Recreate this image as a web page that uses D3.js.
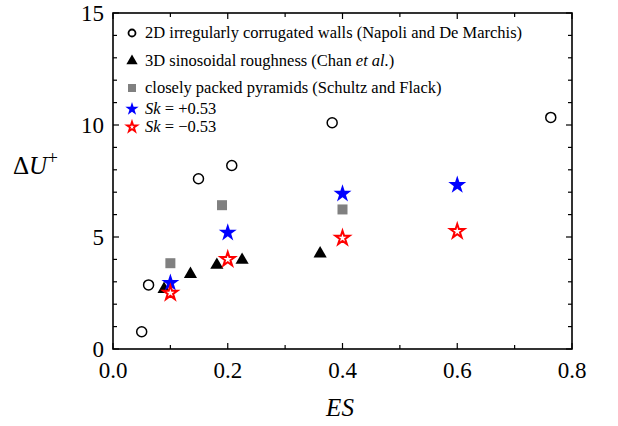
<!DOCTYPE html>
<html>
<head>
<meta charset="utf-8">
<script src="https://cdn.jsdelivr.net/npm/d3@7"></script>
<style>
  svg text, svg tspan { font-family: "Liberation Serif" !important; }
</style>
</head>
<body style="margin:0">
<script>
// data
var corrugatedES = [0.05, 0.062, 0.149, 0.207, 0.382, 0.763];
var corrugatedDU = [0.77, 2.86, 7.6, 8.19, 10.1, 10.34];
var sinusES = [0.089, 0.135, 0.181, 0.225, 0.361];
var sinusDU = [2.67, 3.34, 3.75, 3.97, 4.26];
var pyramidES = [0.1, 0.19, 0.4];
var pyramidDU = [3.83, 6.42, 6.23];
var skPosES = [0.1, 0.2, 0.4, 0.6];
var skPosDU = [2.95, 5.19, 6.93, 7.32];
var skNegES = [0.1, 0.2, 0.4, 0.6];
var skNegDU = [2.5, 4.0, 4.95, 5.25];
var xTicks = [0, 0.2, 0.4, 0.6, 0.8];
var yTicks = [0, 5, 10, 15];

var width = 618, height = 426;
var margin = {left: 113, right: 46, top: 13, bottom: 77};

var svg = d3.select('body').append('svg')
  .attr('width', width)
  .attr('height', height)
  .style('font-family', '"Liberation Serif"');

var x = d3.scaleLinear().domain([0, 0.8]).range([margin.left, width - margin.right]);
var y = d3.scaleLinear().domain([0, 15]).range([height - margin.bottom, margin.top]);

// frame
svg.append('rect')
  .attr('x', x(0)).attr('y', y(15))
  .attr('width', x(0.8) - x(0)).attr('height', y(0) - y(15))
  .attr('fill', 'none').attr('stroke', 'black').attr('stroke-width', 1.6);

// inward ticks on all four sides
var xMinor = d3.range(0, 0.81, 0.1);
var yMinor = d3.range(0, 15.1, 1);
xMinor.forEach(function(v) {
  var major = Math.abs(Math.round(v * 10) % 2) === 0;
  var len = major ? 6 : 4;
  svg.append('line').attr('x1', x(v)).attr('x2', x(v)).attr('y1', y(0)).attr('y2', y(0) - len).attr('stroke', 'black').attr('stroke-width', 1.2);
  svg.append('line').attr('x1', x(v)).attr('x2', x(v)).attr('y1', y(15)).attr('y2', y(15) + len).attr('stroke', 'black').attr('stroke-width', 1.2);
});
yMinor.forEach(function(v) {
  var len = (Math.round(v) % 5 === 0) ? 6 : 4;
  svg.append('line').attr('x1', x(0)).attr('x2', x(0) + len).attr('y1', y(v)).attr('y2', y(v)).attr('stroke', 'black').attr('stroke-width', 1.2);
  svg.append('line').attr('x1', x(0.8)).attr('x2', x(0.8) - len).attr('y1', y(v)).attr('y2', y(v)).attr('stroke', 'black').attr('stroke-width', 1.2);
});

// tick labels
svg.selectAll('.xlab').data(xTicks).enter().append('text')
  .attr('x', function(d) { return x(d); })
  .attr('y', y(0) + 29)
  .attr('text-anchor', 'middle')
  .attr('font-size', 23)
  .attr('font-family', 'Liberation Serif')
  .text(function(d) { return d.toFixed(1); });

svg.selectAll('.ylab').data(yTicks).enter().append('text')
  .attr('x', x(0) - 9)
  .attr('y', function(d) { return y(d) + 8; })
  .attr('text-anchor', 'end')
  .attr('font-size', 23)
  .attr('font-family', 'Liberation Serif')
  .text(function(d) { return d; });

// axis titles
svg.append('text')
  .attr('x', 340).attr('y', 416)
  .attr('text-anchor', 'middle')
  .attr('font-size', 25).attr('font-style', 'italic')
  .attr('font-family', 'Liberation Serif')
  .text('ES');

var yt = svg.append('text')
  .attr('x', 13).attr('y', 174)
  .attr('font-size', 25)
  .attr('font-family', 'Liberation Serif');
yt.append('tspan').text('Δ');
yt.append('tspan').attr('font-style', 'italic').text('U');
yt.append('tspan').attr('dy', -10).attr('font-size', 19).text('+');

// markers
var starPath = function(s) { return d3.symbol().type(d3.symbolStar).size(s)(); };
var triPath = function(s) { return d3.symbol().type(d3.symbolTriangle).size(s)(); };

function pts(xs, ys) { return xs.map(function(v, i) { return [v, ys[i]]; }); }

svg.selectAll('.corr').data(pts(corrugatedES, corrugatedDU)).enter().append('circle')
  .attr('cx', function(d) { return x(d[0]); })
  .attr('cy', function(d) { return y(d[1]); })
  .attr('r', 5).attr('fill', 'white').attr('stroke', 'black').attr('stroke-width', 1.5);

svg.selectAll('.tri').data(pts(sinusES, sinusDU)).enter().append('path')
  .attr('d', triPath(75))
  .attr('transform', function(d) { return 'translate(' + x(d[0]) + ',' + y(d[1]) + ')'; })
  .attr('fill', 'black');

svg.selectAll('.sq').data(pts(pyramidES, pyramidDU)).enter().append('rect')
  .attr('x', function(d) { return x(d[0]) - 5; })
  .attr('y', function(d) { return y(d[1]) - 5; })
  .attr('width', 10).attr('height', 10)
  .attr('fill', '#808080');

svg.selectAll('.skp').data(pts(skPosES, skPosDU)).enter().append('path')
  .attr('d', starPath(100))
  .attr('transform', function(d) { return 'translate(' + x(d[0]) + ',' + y(d[1]) + ')'; })
  .attr('fill', '#0000ff');

svg.selectAll('.skn').data(pts(skNegES, skNegDU)).enter().append('path')
  .attr('d', starPath(62))
  .attr('transform', function(d) { return 'translate(' + x(d[0]) + ',' + y(d[1]) + ')'; })
  .attr('fill', 'white').attr('stroke', '#ff0000').attr('stroke-width', 2);

// legend
var lx = 132, tx = 145;
var leg = svg.append('g');
leg.append('circle').attr('cx', lx).attr('cy', 33).attr('r', 3.5).attr('fill', 'white').attr('stroke', 'black').attr('stroke-width', 1.8);
leg.append('path').attr('d', triPath(55)).attr('transform', 'translate(' + lx + ',61)').attr('fill', 'black');
leg.append('rect').attr('x', lx - 4).attr('y', 84).attr('width', 8).attr('height', 8).attr('fill', '#808080');
leg.append('path').attr('d', starPath(55)).attr('transform', 'translate(' + lx + ',109)').attr('fill', '#0000ff');
leg.append('path').attr('d', starPath(32)).attr('transform', 'translate(' + lx + ',127)').attr('fill', 'white').attr('stroke', '#ff0000').attr('stroke-width', 1.8);

function legText(yy) {
  return leg.append('text').attr('font-size', 16.5).attr('font-family', 'Liberation Serif').attr('x', tx).attr('y', yy);
}
legText(38).text('2D irregularly corrugated walls (Napoli and De Marchis)');
var t2 = legText(66);
t2.append('tspan').text('3D sinosoidal roughness (Chan ');
t2.append('tspan').attr('font-style', 'italic').text('et al.');
t2.append('tspan').text(')');
legText(93).text('closely packed pyramids (Schultz and Flack)');
var t4 = legText(114);
t4.append('tspan').attr('font-style', 'italic').text('Sk');
t4.append('tspan').text(' = +0.53');
var t5 = legText(132);
t5.append('tspan').attr('font-style', 'italic').text('Sk');
t5.append('tspan').text(' = −0.53');
</script>
</body>
</html>
